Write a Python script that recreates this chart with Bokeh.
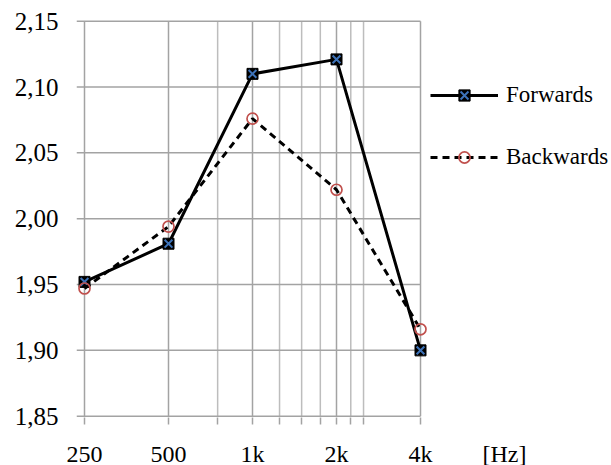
from bokeh.plotting import figure
from bokeh.models import (FixedTicker, CustomJSTickFormatter, Legend, LegendItem, Range1d)
from bokeh.embed import file_html
from bokeh.resources import INLINE

# ---- data ----
freqs = [250, 500, 1000, 2000, 4000]
forwards = [1.952, 1.981, 2.110, 2.121, 1.900]
backwards = [1.947, 1.994, 2.076, 2.022, 1.916]
x_ticks = [250, 500, 1000, 2000, 4000]
x_minor_ticks = [750, 1250, 1500, 1750, 2250, 2500]
unit_tick = 8000          # position of the "[Hz]" unit text on the axis
y_ticks = [1.85, 1.90, 1.95, 2.00, 2.05, 2.10, 2.15]
unit_label = "[Hz]"

FONT = "Liberation Serif"
GRID = "#a3a3a3"
GRID_MINOR = "#bdbdbd"

PX_OCT = 84.0                     # pixels per octave on the x axis
PX_UNIT = 395.0 / 0.3             # pixels per y unit
x_start = 250 * 2 ** (-8 / PX_OCT)
x_end = 4000 * 2 ** (191 / PX_OCT)
y_start = 1.85 - 1.3 / PX_UNIT
y_end = 2.15 + 4.7 / PX_UNIT
x_min, x_max = x_ticks[0], x_ticks[-1]
y_min, y_max = y_ticks[0], y_ticks[-1]

p = figure(frame_width=535, frame_height=401,
           x_axis_type="log", x_range=Range1d(x_start, x_end), y_range=Range1d(y_start, y_end),
           min_border_left=76, min_border_right=0, min_border_top=16, min_border_bottom=48,
           output_backend="svg", toolbar_location=None)
p.outline_line_color = None
p.background_fill_color = "white"
p.border_fill_color = "white"
p.xgrid.visible = False
p.ygrid.visible = False

# x axis: labels at major ticks plus the unit text; tick marks drawn as minor ticks
p.xaxis.ticker = FixedTicker(ticks=x_ticks + [unit_tick], minor_ticks=x_ticks + x_minor_ticks)
p.xaxis.formatter = CustomJSTickFormatter(code="""
if (tick > 5000) { return '%s'; }
return tick >= 1000 ? (Math.round(tick/1000)) + 'k' : String(Math.round(tick));""" % unit_label)
p.xaxis.axis_line_color = None
p.xaxis.major_tick_line_color = None
p.xaxis.major_tick_in = 0
p.xaxis.major_tick_out = 0
p.xaxis.minor_tick_line_color = GRID
p.xaxis.minor_tick_line_width = 1.5
p.xaxis.minor_tick_in = 0
p.xaxis.minor_tick_out = 7
p.xaxis.major_label_standoff = 16
p.xaxis.major_label_text_font = FONT
p.xaxis.major_label_text_font_size = "24px"
p.xaxis.major_label_text_color = "black"

# y axis
p.yaxis.ticker = FixedTicker(ticks=y_ticks, minor_ticks=[])
p.yaxis.formatter = CustomJSTickFormatter(code="return tick.toFixed(2).replace('.', ',');")
p.yaxis.axis_line_color = None
p.yaxis.major_tick_line_color = None
p.yaxis.major_tick_in = 0
p.yaxis.major_tick_out = 0
p.yaxis.minor_tick_line_color = None
p.yaxis.major_label_standoff = 18
p.yaxis.major_label_text_font = FONT
p.yaxis.major_label_text_font_size = "25px"
p.yaxis.major_label_text_color = "black"

# grid lines (limited to the chart area, horizontal ones start at the y tick stubs)
p.segment(x0=x_minor_ticks, x1=x_minor_ticks, y0=[y_min] * len(x_minor_ticks),
          y1=[y_max] * len(x_minor_ticks), line_color=GRID_MINOR, line_width=1.5)
p.segment(x0=x_ticks, x1=x_ticks, y0=[y_min] * len(x_ticks),
          y1=[y_max] * len(x_ticks), line_color=GRID, line_width=1.5)
p.segment(x0=[x_start] * len(y_ticks), x1=[x_max] * len(y_ticks), y0=y_ticks, y1=y_ticks,
          line_color=GRID, line_width=1.5)

# series
fl = p.line(freqs, forwards, line_color="black", line_width=3)
fs = p.scatter(freqs, forwards, marker="square", size=11, fill_color="black", line_color="black")
fx = p.scatter(freqs, forwards, marker="x", size=11, line_color="#3d72b8", line_width=2)

bl = p.line(freqs, backwards, line_color="black", line_width=3, line_dash="7 5")
bc = p.scatter(freqs, backwards, marker="circle", size=11, fill_color=None,
               line_color="#c0504d", line_width=1.7)

legend = Legend(items=[LegendItem(label="Forwards", renderers=[fl, fs, fx]),
                       LegendItem(label="Backwards", renderers=[bl, bc])],
                location=(354, 246), orientation="vertical",
                glyph_width=68, glyph_height=28, label_height=28, label_standoff=8,
                spacing=34, padding=0, margin=0,
                border_line_color=None, background_fill_color=None,
                label_text_font=FONT, label_text_font_size="23px",
                label_text_color="black")
p.add_layout(legend, "center")

open("out.html", "w").write(file_html(p, INLINE))
